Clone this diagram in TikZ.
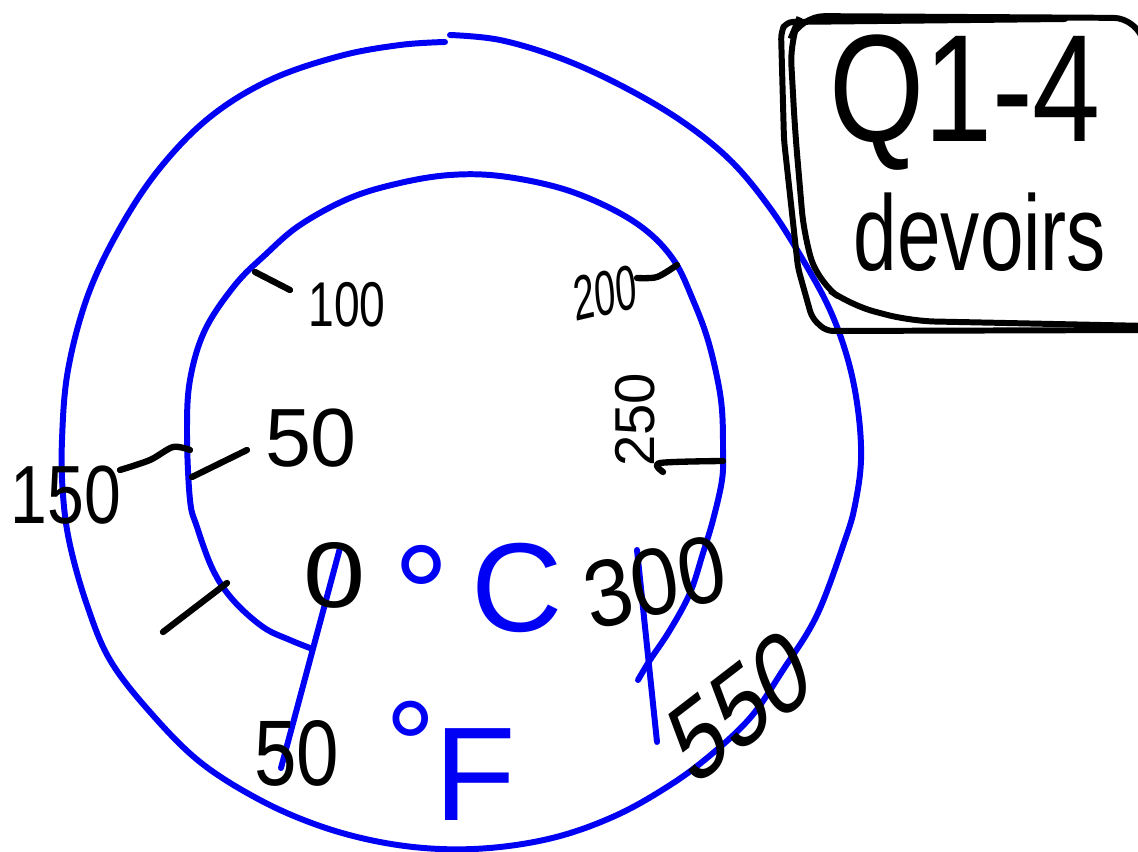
\documentclass[tikz,border=0pt]{standalone}
\usepackage{fontspec}
\setmainfont{Liberation Sans}
\definecolor{dialblue}{RGB}{0,0,245}

\begin{document}
\begin{tikzpicture}[
    x=0.02cm, y=-0.02cm,
    ring/.style={draw=dialblue, line width=3.4pt, line cap=round, line join=round},
    tick/.style={draw=black, line width=3.6pt, line cap=round, line join=round},
    frame/.style={draw=black, line width=3.4pt, line cap=round},
    numtag/.style={inner sep=0pt, font=\fontsize{#1}{#1}\selectfont},
    unittag/.style={inner sep=0pt, text=dialblue, font=\fontsize{#1}{#1}\selectfont},
  ]
  \useasboundingbox (0,0) rectangle (1138,851);
  \clip (0,0) rectangle (1138,851);

  %% ---------------- outer ring (degrees F) ----------------
  \draw[ring] plot[smooth, tension=0.6] coordinates {
    (450,35) (500,40) (560,58) (620,85) (680,120) (730,160) (770,208)
    (803,260) (830,310) (848,360) (858,410) (861,460) (855,505) (845,540)
    (817,615) (783,670) (750,718) (707,758) (667,787) (617,815) (560,836)
    (500,847) (440,849) (380,842) (320,826) (260,800) (200,762) (150,712)
    (110,660) (87,605) (70,545) (63,495) (62,440) (68,370) (88,295)
    (120,228) (160,168) (210,117) (270,80) (340,56) (400,45) (445,42)};

  %% ---------------- inner arc (degrees C) ----------------
  \draw[ring] plot[smooth, tension=0.6] coordinates {
    (310,648) (290,640) (263,627) (233,600) (213,570) (197,527) (190,500)
    (187,433) (190,380) (205,330) (235,285) (265,255) (300,225) (350,198)
    (400,183) (450,175) (500,176) (560,188) (610,208) (648,232) (675,262)
    (693,300) (707,337) (717,377) (722,410) (723,450) (722,480) (713,520)
    (703,553) (690,593) (670,630) (650,660) (638,680)};

  % the two needles
  \draw[ring] (340,548) -- (281,768);
  \draw[ring] (637,550) -- (657,742);

  %% ---------------- ticks ----------------
  \draw[tick] (255,272) -- (290,290);
  \draw[tick] (192,477) -- (247,450);
  \draw[tick] plot[smooth] coordinates {(120,470) (150,460) (173,447) (190,450)};
  \draw[tick] (163,632) -- (227,583);
  \draw[tick] plot[smooth] coordinates {(637,278) (657,277) (677,265)};
  \draw[tick] plot[smooth] coordinates {(663,472) (660,463) (723,461)};

  %% ---------------- scale labels ----------------
  \node[numtag=36pt, xscale=0.73] (lbl100) at (347,305) {100};
  \node[numtag=47pt] (lbl50c) at (311,438) {50};
  \node[numtag=47pt, xscale=0.8] (lbl150) at (66,495) {150};
  \node[numtag=53pt, xscale=1.2] (lbl0) at (335,575) {0};
  \node[numtag=53pt, xscale=0.82] (lbl50f) at (297,753) {50};
  \node[numtag=36pt, xscale=0.6, rotate=8] (lbl200) at (605,293) {200};
  \node[numtag=32pt, rotate=90] (lbl250) at (635,420) {250};
  \node[numtag=54pt, xscale=0.9, rotate=12] (lbl300) at (655,582) {300};
  \node[numtag=66pt, xscale=0.75, rotate=30] (lbl550) at (740,706) {550};

  % units
  \node[unittag=80pt, anchor=north] (degC) at (422,545) {°};
  \node[unittag=72pt] (unitC) at (517,588) {C};
  \node[unittag=72pt, anchor=north] (degF) at (411,701) {°};
  \node[unittag=76pt] (unitF) at (475,775) {F};

  %% ---------------- box ----------------
  \draw[frame, rounded corners=4pt] (1065,19) -- (786,22) -- (781,32)
    -- (784,140) -- (798,268) -- (812,318) -- (826,331) -- (1150,330);
  \draw[frame, rounded corners=14pt] (1150,70) -- (1138,18) -- (800,16)
    -- (790,40) -- (795,130) -- (804,235) -- (818,282) -- (850,305)
    -- (910,321) -- (1150,326);
  \node[numtag=87pt, xscale=0.8] (title) at (965,103) {Q1-4};
  \node[numtag=61pt, xscale=0.73] (task) at (980,232) {devoirs};

\end{tikzpicture}
\end{document}
